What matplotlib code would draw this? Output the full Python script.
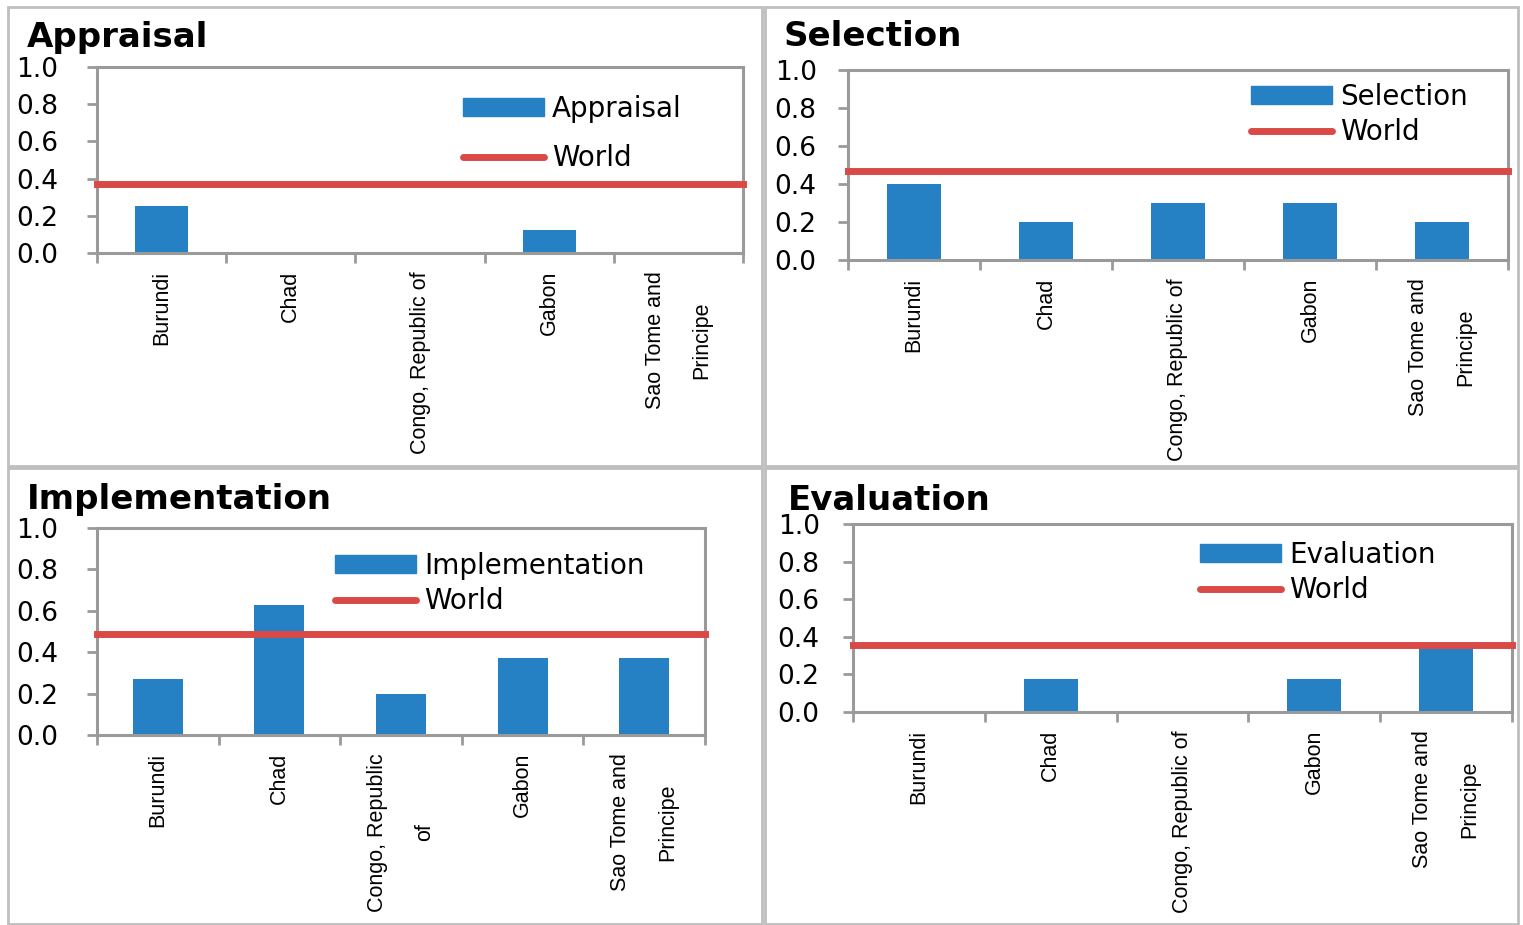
import numpy as np
import matplotlib
matplotlib.use('Agg')
import matplotlib.pyplot as plt
from matplotlib.patches import Rectangle
from matplotlib.lines import Line2D

# Data
countries = ['Burundi', 'Chad', 'Congo, Republic of', 'Gabon', 'Sao Tome and\nPrincipe']
countries_impl = ['Burundi', 'Chad', 'Congo, Republic\nof', 'Gabon', 'Sao Tome and\nPrincipe']

appraisal = [0.25, 0.0, 0.0, 0.125, 0.0]
selection = [0.40, 0.20, 0.30, 0.30, 0.20]
implementation = [0.27, 0.63, 0.20, 0.37, 0.37]
evaluation = [0.0, 0.175, 0.0, 0.175, 0.36]

world = {'Appraisal': 0.37, 'Selection': 0.47,
         'Implementation': 0.49, 'Evaluation': 0.355}

blue = '#2581C3'
red = '#D94A47'
grey = '#9A9A9A'

W, H = 1523, 925
fig = plt.figure(figsize=(W / 100, H / 100), dpi=100)


def px(x, y):
    return x / W, 1 - y / H


# panel frames
for (x0, y0, x1, y1) in [(8, 7, 762, 466), (765, 7, 1518, 466),
                         (8, 468, 762, 924), (765, 468, 1518, 924)]:
    fig.patches.append(Rectangle(px(x0, y1), (x1 - x0) / W, (y1 - y0) / H,
                                 transform=fig.transFigure, fill=False,
                                 edgecolor='#BFBFBF', lw=2))

label_font = ['Liberation Sans Narrow', 'Liberation Sans']

# name, values, labels, axes box (l, t, r, b) px, title pos, legend pos, legend spacing, ytick pad
panels = [
    ('Appraisal', appraisal, countries, (97, 67, 743, 253), (27, 37), (463, 95), 0.75, 21),
    ('Selection', selection, countries, (848, 70, 1508, 260), (784, 37), (1251, 83), 0.25, 15.5),
    ('Implementation', implementation, countries_impl, (97, 528, 705, 735), (27, 500), (335, 552), 0.25, 21),
    ('Evaluation', evaluation, countries, (853, 524, 1512, 712), (788, 500), (1200, 541), 0.25, 17),
]

for name, vals, labels, (l, t, r, b), (tx, ty), (lx, ly), spacing, ypad in panels:
    fx, fy = px(l, b)
    ax = fig.add_axes([fx, fy, (r - l) / W, (b - t) / H])
    x = np.arange(len(vals))
    ax.bar(x, vals, width=0.41, color=blue, zorder=2)
    ax.plot([-0.5, 4.5], [world[name]] * 2, color=red, lw=5,
            solid_capstyle='projecting', clip_on=False, zorder=3)
    ax.set_xlim(-0.5, 4.5)
    ax.set_ylim(0, 1.0)

    ax.set_yticks(np.arange(0, 1.01, 0.2))
    ax.set_yticklabels(['%.1f' % v for v in np.arange(0, 1.01, 0.2)],
                       fontsize=19)
    ax.tick_params(axis='y', which='major', direction='out', length=7,
                   width=2, color=grey, pad=ypad)

    ax.set_xticks(x)
    ax.set_xticklabels(labels, rotation=90, va='top', ha='center',
                       multialignment='center', fontsize=15.5, family=label_font,
                       linespacing=2.6)
    ax.set_xticks(np.arange(-0.5, 4.6, 1.0), minor=True)
    ax.tick_params(axis='x', which='major', length=0, pad=13)
    ax.tick_params(axis='x', which='minor', direction='out', length=7,
                   width=2, color=grey)

    for s in ax.spines.values():
        s.set_color(grey)
        s.set_linewidth(2.2)

    fig.text(*px(tx, ty), name, fontsize=24.5, fontweight='bold',
             ha='left', va='center')

    handles = [Rectangle((0, 0), 1, 1, color=blue),
               Line2D([], [], color=red, lw=5, solid_capstyle='round')]
    ax.legend(handles, [name, 'World'], loc='upper left',
              bbox_to_anchor=px(lx, ly), bbox_transform=fig.transFigure,
              frameon=False, fontsize=20, handlelength=2.9, handleheight=0.6,
              handletextpad=0.3, labelspacing=spacing, borderpad=0,
              borderaxespad=0)

fig.savefig('out.png', dpi=100)
